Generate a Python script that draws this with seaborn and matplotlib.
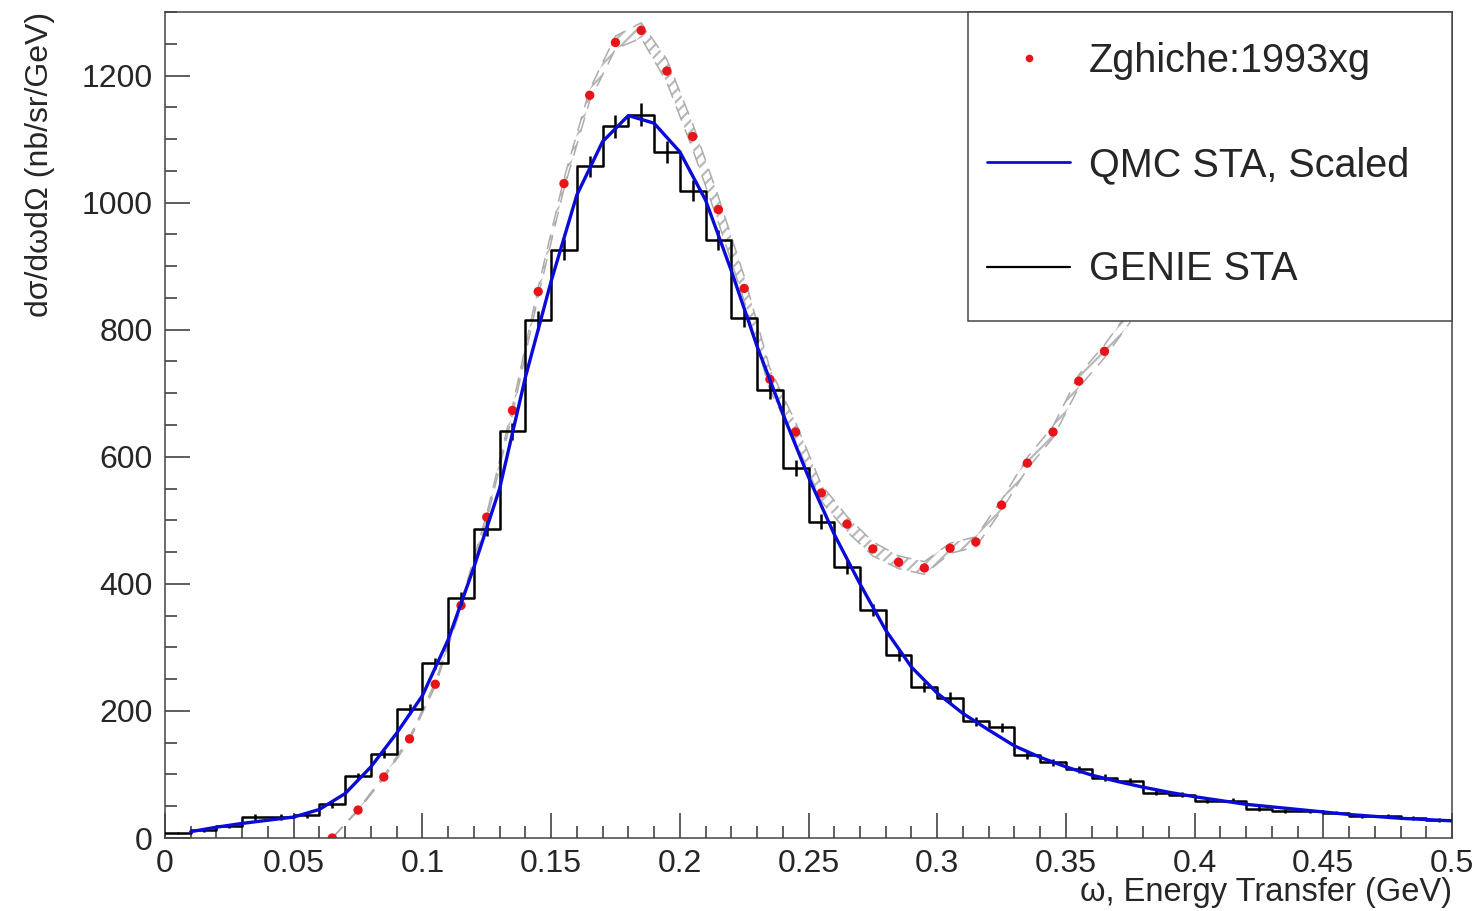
import numpy as np
import pandas as pd
import matplotlib
matplotlib.use("Agg")
import matplotlib.pyplot as plt
import seaborn as sns
from matplotlib.lines import Line2D
from matplotlib.patches import Rectangle
from matplotlib.ticker import MultipleLocator

# GENIE STA histogram, bins of 0.01 GeV from 0 to 0.5
genie_edges = [round(0.01 * i, 2) for i in range(51)]
genie_vals = [8, 13, 19, 33, 33, 36, 53, 97, 132, 203,
              275, 377, 487, 640, 815, 926, 1057, 1120, 1138, 1080,
              1019, 941, 819, 705, 582, 498, 426, 359, 288, 237,
              221, 184, 174, 131, 119, 108, 95, 90, 71, 68,
              59, 59, 46, 43, 42, 40, 35, 34, 31, 28]
genie_err = [2, 3, 3, 4, 4, 4, 5, 6, 6, 8,
             9, 10, 12, 13, 15, 16, 17, 18, 18, 17,
             17, 16, 15, 14, 13, 12, 11, 10, 9, 8,
             8, 7, 7, 6, 6, 5, 5, 5, 4, 4,
             4, 4, 4, 3, 3, 3, 3, 3, 3, 3]

# QMC STA, scaled
qmc_x = [round(0.01 * i, 2) for i in range(1, 51)]
qmc_y = [10, 17, 23, 28, 33, 45, 70, 112, 165, 224,
         312, 426, 550, 725, 876, 1012, 1096, 1137, 1125, 1080,
         1004, 893, 774, 668, 568, 478, 400, 327, 269, 228,
         196, 170, 145, 127, 112, 99, 89, 80, 72, 65,
         59, 53, 49, 45, 41, 37, 34, 31, 29, 27]

# Zghiche 1993 data points
zg_x = [0.065, 0.075, 0.085, 0.095, 0.105, 0.115, 0.125, 0.135, 0.145, 0.155,
        0.165, 0.175, 0.185, 0.195, 0.205, 0.215, 0.225, 0.235, 0.245, 0.255,
        0.265, 0.275, 0.285, 0.295, 0.305, 0.315, 0.325, 0.335, 0.345, 0.355,
        0.365, 0.375]
zg_y = [0, 44, 96, 156, 242, 366, 505, 673, 860, 1030,
        1169, 1252, 1271, 1207, 1104, 989, 865, 722, 639, 543,
        494, 455, 434, 425, 456, 466, 524, 590, 639, 719,
        766, 822]
zg_err = [0, 1, 2, 2, 3, 4, 5, 6, 7, 8,
          9, 10, 12, 18, 20, 20, 19, 17, 15, 13,
          12, 11, 10, 10, 8, 8, 8, 9, 9, 10,
          10, 10]

sns.set_style("white")
plt.rcParams["font.family"] = ["Liberation Sans", "DejaVu Sans"]
plt.rcParams["hatch.linewidth"] = 1.6

fig = plt.figure(figsize=(14.79, 9.11), dpi=100)
ax = fig.add_axes([165 / 1479, 1 - 838 / 911, 1287 / 1479, 826 / 911])

grey = "#acacac"
zg_lo = np.array(zg_y) - np.array(zg_err)
zg_hi = np.array(zg_y) + np.array(zg_err)
ax.fill_between(zg_x, zg_lo, zg_hi, facecolor="none", edgecolor="#b9b9b9",
                hatch="///", linewidth=0, zorder=1)
for band in (zg_lo, zg_hi):
    sns.lineplot(x=zg_x, y=band, color=grey, linewidth=1.1,
                 sort=False, ax=ax, zorder=1.2)
    ax.lines[-1].set_dashes([10, 6])

sns.scatterplot(x=zg_x, y=zg_y, color="#e8141a", s=45, edgecolor="none",
                ax=ax, zorder=2.5)

centers = [(a + b) / 2 for a, b in zip(genie_edges[:-1], genie_edges[1:])]
hist_df = pd.DataFrame({"omega": centers, "xsec": genie_vals})
sns.histplot(data=hist_df, x="omega", weights="xsec", bins=genie_edges,
             element="step", fill=False, color="black", linewidth=1.8,
             ax=ax, zorder=3)
ax.errorbar(centers, genie_vals, yerr=genie_err, fmt="none", ecolor="black",
            elinewidth=1.8, capsize=0, zorder=3)

sns.lineplot(x=qmc_x, y=qmc_y, color="#0b0bd8", linewidth=2.4, sort=False,
             ax=ax, zorder=4)

ax.set_xlim(0, 0.5)
ax.set_ylim(0, 1300)
ax.set_xlabel("")
ax.set_ylabel("")

ax.xaxis.set_major_locator(MultipleLocator(0.05))
ax.xaxis.set_minor_locator(MultipleLocator(0.01))
ax.yaxis.set_major_locator(MultipleLocator(200))
ax.yaxis.set_minor_locator(MultipleLocator(50))
ax.xaxis.set_major_formatter(plt.FuncFormatter(lambda v, p: f"{v:g}"))
ax.tick_params(which="both", direction="in", bottom=True, left=True,
               top=False, right=False, labelsize=23, color="#333333",
               width=1.1)
ax.tick_params(which="major", length=18)
ax.tick_params(which="minor", length=8.5)
ax.tick_params(axis="x", pad=8)
ax.tick_params(axis="y", pad=9)
for s in ax.spines.values():
    s.set_color("#444444")
    s.set_linewidth(1.1)

fig.text(1452 / 1479, 1 - 893 / 911, "ω, Energy Transfer (GeV)", ha="right",
         va="center", fontsize=23.5)
fig.text(40 / 1479, 1 - 12 / 911, "dσ/dωdΩ (nb/sr/GeV)", rotation=90,
         ha="center", va="top", fontsize=23)

# legend box drawn by hand, ROOT style
box = Rectangle((803 / 1287, (838 - 321) / 826), 484 / 1287, 309 / 826,
                transform=ax.transAxes, facecolor="white", edgecolor="#444444",
                linewidth=1.1, zorder=9, clip_on=False)
ax.add_patch(box)

handles = [
    Line2D([], [], marker="o", linestyle="none", color="#e8141a",
           markersize=5.5, markeredgewidth=0),
    Line2D([], [], color="#0b0bd8", linewidth=2.0),
    Line2D([], [], color="black", linewidth=1.6),
]
labels = ["Zghiche:1993xg", "QMC STA, Scaled", "GENIE STA"]
leg = ax.legend(handles, labels, loc="center left",
                bbox_to_anchor=((987 - 165) / 1287, (838 - 165) / 826),
                borderaxespad=0, borderpad=0, fontsize=28.5, frameon=False,
                labelspacing=1.68, handlelength=2.1, handletextpad=0.48)
leg.set_zorder(10)

fig.savefig("out.png", dpi=100)
